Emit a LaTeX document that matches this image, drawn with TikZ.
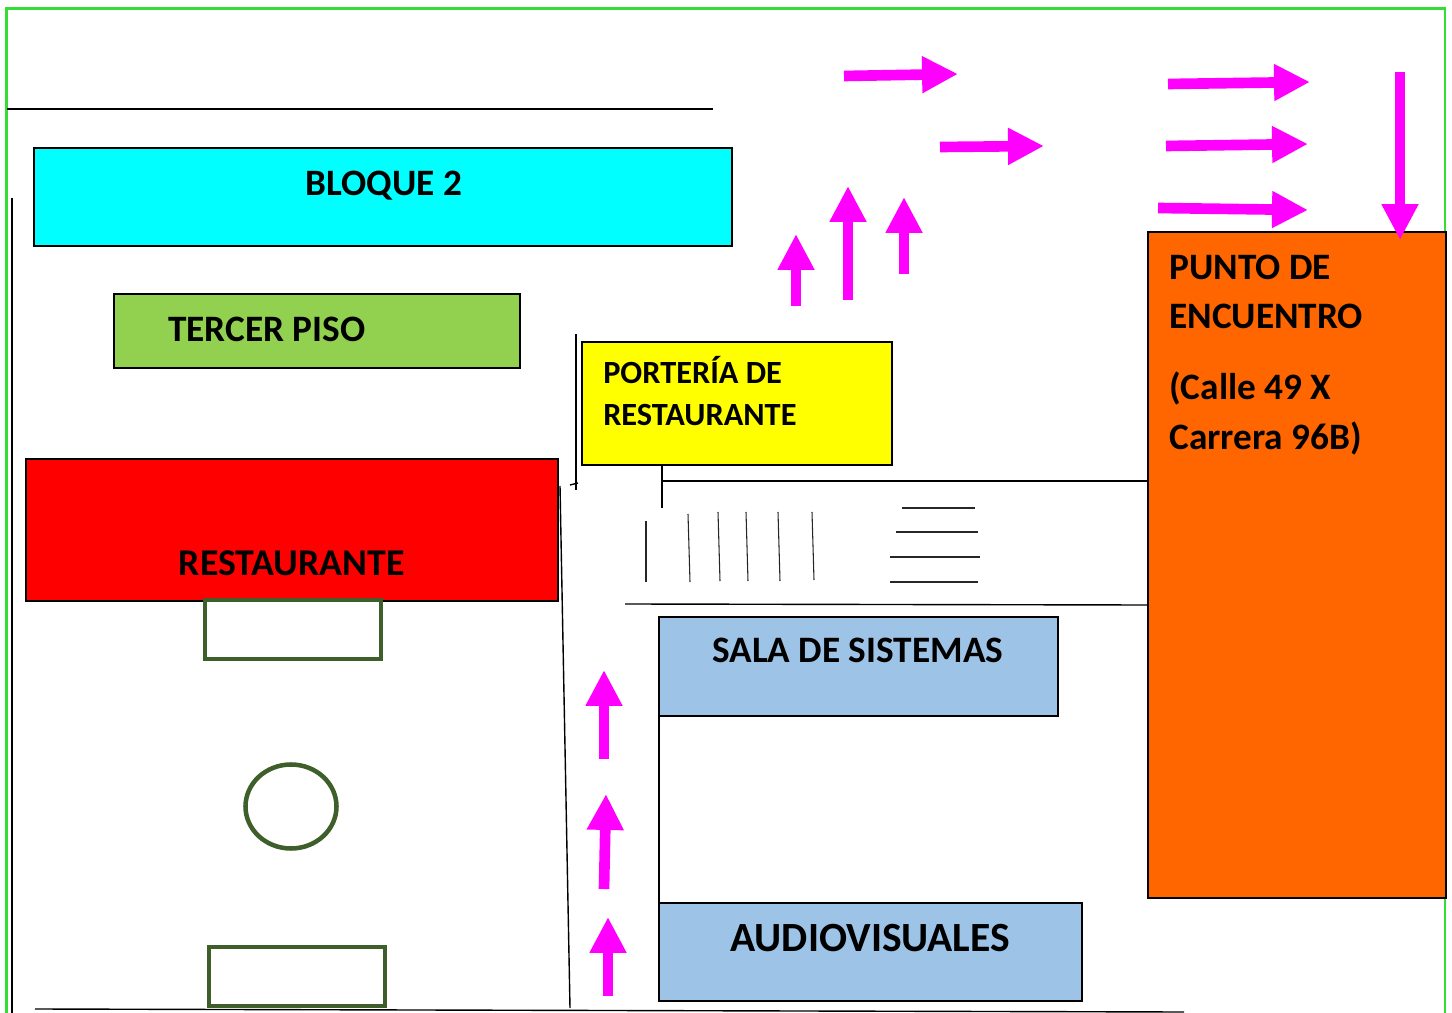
\documentclass[tikz,border=0pt]{standalone}
\usepackage{fontspec}
\setmainfont{Carlito}
\usetikzlibrary{arrows.meta}
\definecolor{mag}{HTML}{FF00FF}
\definecolor{dgreen}{HTML}{3F5F2A}
\definecolor{lblue}{HTML}{9DC3E6}
\definecolor{lgreen}{HTML}{92D050}
\definecolor{orng}{HTML}{FF6600}
\definecolor{cyn}{HTML}{00FFFF}
\definecolor{yel}{HTML}{FFFF00}
\definecolor{redd}{HTML}{FF0000}
\definecolor{frame}{HTML}{33DD33}
\tikzset{x=0.0264cm,y=-0.0264cm,
 ln/.style={draw=black,line width=1.05pt},
 thinln/.style={draw=black!85,line width=0.8pt},
 boxs/.style={draw=black,line width=1.1pt},
 grn/.style={draw=dgreen,line width=3.4pt},
 lab/.style={font=\bfseries\fontsize{#1}{#1}\selectfont,anchor=base west,inner sep=0pt},
 lab/.default=28,
 parrow/.style={draw=mag,line width=8pt,-{Triangle[length=27pt,width=26pt]}}}
\begin{document}
\begin{tikzpicture}
\useasboundingbox (0,0) rectangle (1452,1013);
\fill[white] (0,0) rectangle (1452,1013);
\draw[frame,line width=1.6pt] (6.5,1013)--(6.5,8.5)--(1445,8.5)--(1445,1013);
% boxes
\filldraw[boxs,fill=cyn] (34,148) rectangle (732,246);
\filldraw[boxs,fill=lgreen] (114,294) rectangle (520,368);
\filldraw[boxs,fill=redd] (26,459) rectangle (558,601);
\filldraw[boxs,fill=yel] (582,342) rectangle (892,465);
\filldraw[boxs,fill=lblue] (659,617) rectangle (1058,716);
\filldraw[boxs,fill=lblue] (659,903) rectangle (1082,1001);
\filldraw[boxs,fill=orng] (1148,232) rectangle (1446,898);
\filldraw[grn,fill=white] (205,600) rectangle (381,659);
\filldraw[grn,fill=white] (209,947) rectangle (385,1006);
\draw[grn] (291,806.5) ellipse (45.5 and 42);
% lines
\foreach \a/\b/\c/\d in {7/109/713/109, 12/198/12/1013, 576/334/576/490, 570/485/578/483, 560/486/570/1008, 662/465/662/508, 662/481/1148/481, 625/604/1148/605, 659/716/659/903, 35/1009/1184/1012}
 \draw[ln] (\a,\b)--(\c,\d);
\foreach \a/\b/\c/\d in {646/521/646/582, 688/514/690/582, 718/512/720/581, 746/512/748/581, 778/512/780/581, 812/512/814/580, 902/508/975/508, 896/532/978/532, 890/557/980/557, 890/582/978/582}
 \draw[thinln] (\a,\b)--(\c,\d);
% texts
\node[lab] (t1) at (305,195.5) {BLOQUE 2};
\node[lab] (t2) at (168,341.5) {TERCER PISO};
\node[lab=28.4] (t3) at (178.5,575.5) {RESTAURANTE};
\node[lab=24.3] (t4) at (603,384) {PORTERÍA DE};
\node[lab=24.3] (t5) at (603,426) {RESTAURANTE};
\node[lab] (t6) at (712,662.5) {SALA DE SISTEMAS};
\node[lab=31.2] (t7) at (730,951.5) {AUDIOVISUALES};
\node[lab] (t8) at (1169,279.5) {PUNTO DE};
\node[lab] (t9) at (1169,328.5) {ENCUENTRO};
\node[lab] (t10) at (1169,399.5) {(Calle 49 X};
\node[lab] (t11) at (1169,449.5) {Carrera 96B)};
% arrows
\foreach \x/\y/\u/\v in {844/76/958/74, 940/147/1044/146, 1168/84/1310/82, 1166/146/1308/144, 1158/208/1308/210, 1400/72/1400/240, 796/306/796/234, 848/300/848/186, 904/274/904/197, 604/759/604/670, 604/889/606/794, 608/996/608/917}
 \draw[parrow] (\x,\y)--(\u,\v);
\end{tikzpicture}
\end{document}
